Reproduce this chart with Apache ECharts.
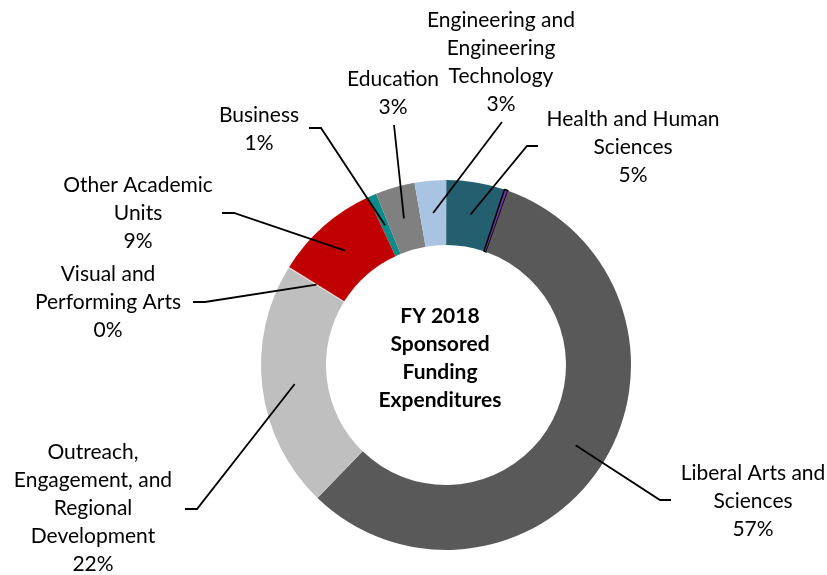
<!DOCTYPE html>
<html>
<head>
<meta charset="utf-8">
<title>FY 2018 Sponsored Funding Expenditures</title>
<script src="https://cdn.jsdelivr.net/npm/echarts@6/dist/echarts.min.js"></script>
<style>
  html, body { margin: 0; padding: 0; background: #fff; }
  #chart { width: 827px; height: 575px; }
</style>
</head>
<body>
<div id="chart"></div>
<script>
// 数据（按顺时针顺序，从 Business 开始）
const categories = [
  'Business',
  'Education',
  'Engineering and\nEngineering\nTechnology',
  'Health and Human\nSciences',
  '',
  'Liberal Arts and\nSciences',
  'Outreach,\nEngagement, and\nRegional\nDevelopment',
  'Visual and\nPerforming Arts',
  'Other Academic\nUnits'
]
const shares = [0.75, 3.45, 2.75, 5.1, 0.32, 56.85, 21.6, 0.1, 9.2]
const sliceColors = ['#0a8a8a', '#808080', '#a9c3e2', '#235f6e', '#7030a0', '#595959', '#bfbfbf', '#d9d9d9', '#c00000']

// 标签位置与引导线端点（像素）
const labelSpots = [
  { at: [259, 129], end: [309, 128], side: 'right' },
  { at: [393, 93], end: [394, 125], side: 'bottom' },
  { at: [501, 62], end: [502, 122], side: 'bottom' },
  { at: [633, 147], end: [538, 146], side: 'left' },
  null,
  { at: [753, 501], end: [671, 500], side: 'left' },
  { at: [93, 508], end: [185, 509], side: 'right' },
  { at: [108, 302], end: [193, 302], side: 'right' },
  { at: [138, 213], end: [222, 213], side: 'right' }
]

const chart = echarts.init(document.getElementById('chart'))

// 引导线：从环中间的中点角出发，经过折点到标签
const leaderPoints = (idx) => {
  const spot = labelSpots[idx]
  const layout = chart.getModel().getSeriesByIndex(1).getData().getItemLayout(idx)
  const mid = (layout.startAngle + layout.endAngle) / 2
  const rm = (layout.r + layout.r0) / 2
  const p0 = [layout.cx + rm * Math.cos(mid), layout.cy + rm * Math.sin(mid)]
  let elbow = spot.end
  if (spot.side === 'right') elbow = [spot.end[0] + 12, spot.end[1]]
  if (spot.side === 'left') elbow = [spot.end[0] - 11, spot.end[1]]
  return [p0, elbow, spot.end]
}

const ring = {
  type: 'pie',
  center: [446, 365],
  radius: [120, 185],
  startAngle: 114.9,
  clockwise: true,
  avoidLabelOverlap: false
}

const option = {
  animation: false,
  color: sliceColors,
  graphic: [{
    type: 'text',
    x: 440,
    y: 358,
    style: {
      text: 'FY 2018\nSponsored\nFunding\nExpenditures',
      align: 'center',
      verticalAlign: 'middle',
      fontFamily: 'Lato',
      fontSize: 21,
      fontWeight: 'bold',
      lineHeight: 28,
      fill: '#000'
    }
  }],
  series: [
    // 色环
    {
      ...ring,
      z: 2,
      label: { show: false },
      labelLine: { show: false },
      data: shares.map((v, i) => {
        const item = { name: categories[i], value: v }
        if (!labelSpots[i]) item.itemStyle = { borderColor: '#000', borderWidth: 1.5 }
        return item
      })
    },
    // 透明叠加层，只画标签和引导线（画在色环之上）
    {
      ...ring,
      z: 5,
      silent: true,
      itemStyle: { color: 'transparent' },
      label: {
        show: true,
        position: 'outside',
        fontFamily: 'Lato',
        fontSize: 21,
        lineHeight: 28,
        color: '#000',
        opacity: 1,
        align: 'center',
        formatter: (p) => categories[p.dataIndex] + '\n' + Math.round(p.percent) + '%'
      },
      labelLine: {
        show: true,
        lineStyle: { color: '#000', width: 1.8, opacity: 1 }
      },
      labelLayout: (params) => {
        const spot = labelSpots[params.dataIndex]
        if (!spot) return {}
        return {
          x: spot.at[0],
          y: spot.at[1],
          align: 'center',
          verticalAlign: 'middle',
          labelLinePoints: leaderPoints(params.dataIndex)
        }
      },
      data: shares.map((v, i) => {
        const item = { name: categories[i], value: v }
        if (!labelSpots[i]) {
          item.label = { show: false }
          item.labelLine = { show: false }
        }
        return item
      })
    }
  ]
}

chart.setOption(option)
</script>
</body>
</html>
